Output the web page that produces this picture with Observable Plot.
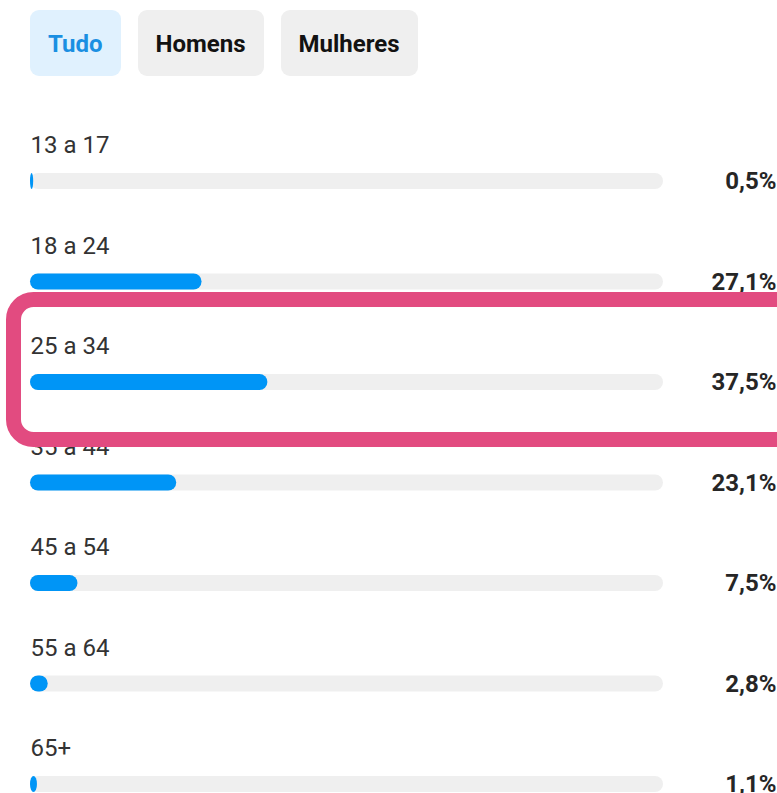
<!DOCTYPE html>
<html>
<head>
<meta charset="utf-8">
<script src="https://cdn.jsdelivr.net/npm/d3@7"></script>
<script src="https://cdn.jsdelivr.net/npm/@observablehq/plot@0.6"></script>
<style>
  html, body { margin: 0; padding: 0; background: #fff; overflow: hidden; }
  #wrap { width: 777px; height: 793px; position: relative; font-family: Roboto, "Noto Sans", sans-serif; }
  #tabs { height: 100px; box-sizing: border-box; padding: 10px 0 0 30px; display: flex; gap: 17px; align-items: flex-start; }
  .tab { height: 66px; box-sizing: border-box; padding: 0 18px; border-radius: 9px; background: #efefef; color: #121212;
         font-size: 24px; font-weight: 700; display: flex; align-items: center; justify-content: center; padding-top: 2px; }
  .tab.active { background: #e0f1fe; color: #1a8fe2; }
  svg { display: block; }
</style>
</head>
<body>
<div id="wrap">
  <div id="tabs"></div>
  <div id="chart"></div>
</div>
<script>
const tabs = ["Tudo", "Homens", "Mulheres"];
const activeTab = "Tudo";
const ages = ["13 a 17", "18 a 24", "25 a 34", "35 a 44", "45 a 54", "55 a 64", "65+"];
const shares = [0.5, 27.1, 37.5, 23.1, 7.5, 2.8, 1.1];
const highlight = "25 a 34";

const tabsEl = document.getElementById("tabs");
tabs.forEach(t => {
  const d = document.createElement("div");
  d.className = "tab" + (t === activeTab ? " active" : "");
  d.textContent = t;
  tabsEl.appendChild(d);
});

const rows = ages.map((age, i) => ({age, share: shares[i]}));
const fmt = v => v.toFixed(1).replace(".", ",") + "%";

const chart = Plot.plot({
  width: 777,
  height: 693,
  margin: 0,
  style: {fontFamily: "Roboto, 'Noto Sans', sans-serif", background: "#fff"},
  x: {domain: [0, 100], range: [30, 663], axis: null},
  y: {domain: ages, range: [12.75, 716.25], padding: 0, round: false, axis: null},
  marks: [
    Plot.barX(rows, {x1: 0, x2: 100, y: "age", fill: "#efefef", rx: 8, insetTop: 60.25, insetBottom: 24.25}),
    Plot.barX(rows, {x1: 0, x2: "share", y: "age", fill: "#0095f6", rx: 8, insetTop: 60.25, insetBottom: 24.25}),
    Plot.text(rows, {x: 0, y: "age", text: "age", textAnchor: "start", dy: -18, fontSize: 24, fill: "#333"}),
    Plot.text(rows, {y: "age", text: d => fmt(d.share), frameAnchor: "right", textAnchor: "end", dx: -1, dy: 18,
                     fontSize: 24, fontWeight: 700, fill: "#262626"}),
    Plot.barX(rows.filter(d => d.age === highlight), {x1: 0, x2: 100, y: "age", fill: "none", stroke: "#e24b80",
      strokeWidth: 15, rx: 20, insetLeft: -16.5, insetRight: -150, insetTop: -14.25, insetBottom: -25.25})
  ]
});
document.getElementById("chart").appendChild(chart);
</script>
</body>
</html>
